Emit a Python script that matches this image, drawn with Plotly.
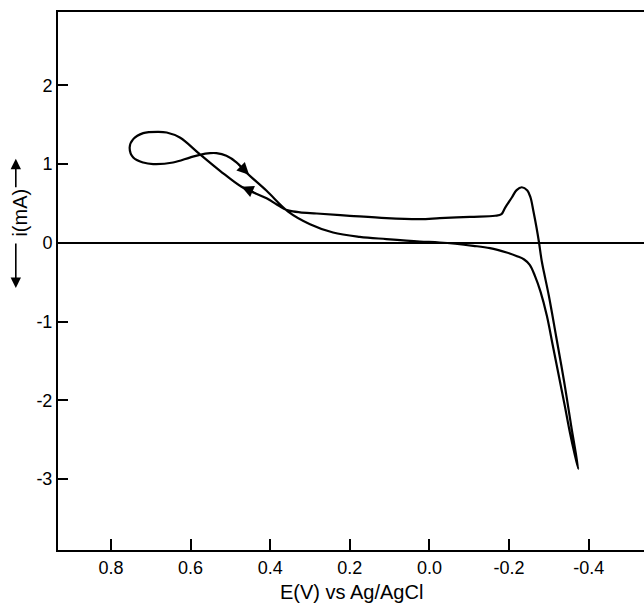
import plotly.graph_objects as go

# Cyclic voltammogram: potential E (V vs Ag/AgCl) and current i (mA), traced along the sweep
E = [-0.374, -0.356, -0.338, -0.318, -0.300, -0.288, -0.282, -0.275, -0.269, -0.261,
     -0.254, -0.246, -0.232, -0.219, -0.207, -0.190, -0.181, -0.165, -0.102, -0.026,
     0.024, 0.108, 0.200, 0.283, 0.325, 0.343, 0.360, 0.378, 0.409, 0.472, 0.526, 0.577,
     0.627, 0.660, 0.681, 0.719, 0.744, 0.753, 0.744, 0.719, 0.694, 0.644,
     0.602, 0.577, 0.551, 0.535, 0.510, 0.484, 0.459, 0.409, 0.355, 0.300,
     0.242, 0.175, 0.108, 0.024, -0.026, -0.110, -0.152, -0.194, -0.220, -0.238, -0.252,
     -0.265, -0.279, -0.295, -0.310, -0.325, -0.340, -0.353, -0.364, -0.374]
I = [-2.872, -2.322, -1.751, -1.180, -0.673, -0.381, -0.228, 0.013, 0.194, 0.406,
     0.575, 0.665, 0.705, 0.669, 0.575, 0.444, 0.364, 0.343, 0.330, 0.313,
     0.301, 0.313, 0.343, 0.372, 0.387, 0.398, 0.420, 0.470, 0.565, 0.711, 0.914, 1.126,
     1.336, 1.400, 1.409, 1.392, 1.316, 1.209, 1.082, 1.019, 0.999, 1.019,
     1.082, 1.117, 1.138, 1.138, 1.104, 1.019, 0.888, 0.660, 0.397, 0.237,
     0.131, 0.076, 0.047, 0.016, 0.004, -0.038, -0.067, -0.123, -0.170, -0.212, -0.280,
     -0.420, -0.620, -0.926, -1.307, -1.688, -2.069, -2.411, -2.665, -2.872]

# sweep-direction arrowheads (head position on the curve)
ARROW_E = [0.453, 0.472]
ARROW_I = [0.863, 0.711]
ARROW_DIR = [(-12, -12), (14, 6)]  # tail offset in px

X_TICKS = [0.8, 0.6, 0.4, 0.2, 0.0, -0.2, -0.4]
X_TICKTEXT = ["0.8", "0.6", "0.4", "0.2", "0.0", "-0.2", "-0.4"]
Y_TICKS = [-3, -2, -1, 0, 1, 2]
Y_TICKTEXT = ["-3", "-2", "-1", "0", "1", "2"]

FONT = "Liberation Sans, Arial, Helvetica, sans-serif"

fig = go.Figure()
fig.add_trace(go.Scatter(
    x=E, y=I, mode="lines",
    line=dict(color="black", width=2.2, shape="spline", smoothing=1.0),
    hoverinfo="skip", showlegend=False))

for e, i, (dx, dy) in zip(ARROW_E, ARROW_I, ARROW_DIR):
    fig.add_annotation(x=e, y=i, ax=dx, ay=dy, text="", showarrow=True,
                       arrowhead=2, arrowsize=1.5, arrowwidth=1.6,
                       arrowcolor="black", standoff=0)

# axis titles
fig.add_annotation(text="E(V) vs Ag/AgCl", x=0.5, y=-0.078, xref="paper", yref="paper",
                   showarrow=False, xanchor="center", yanchor="middle",
                   font=dict(family=FONT, size=20, color="black"))
fig.add_annotation(text="i(mA)", x=-0.065, y=0.627, xref="paper", yref="paper",
                   showarrow=False, textangle=-90, xanchor="center", yanchor="middle",
                   font=dict(family=FONT, size=20, color="black"))
# arrows flanking the y title (up = positive current, down = negative)
fig.add_annotation(x=-0.072, y=0.727, xref="paper", yref="paper", ax=0, ay=30,
                   text="", showarrow=True, arrowhead=2, arrowsize=1.3, arrowwidth=1.6,
                   arrowcolor="black", standoff=0)
fig.add_annotation(x=-0.072, y=0.487, xref="paper", yref="paper", ax=0, ay=-46,
                   text="", showarrow=True, arrowhead=2, arrowsize=1.3, arrowwidth=1.6,
                   arrowcolor="black", standoff=0)

fig.update_layout(
    width=644, height=607,
    margin=dict(l=58, r=0, t=12, b=57),
    paper_bgcolor="white", plot_bgcolor="white",
    showlegend=False,
    xaxis=dict(range=[0.933, -0.539], tickvals=X_TICKS, ticktext=X_TICKTEXT,
               ticks="inside", ticklen=11, tickwidth=1.5, tickcolor="black",
               showline=True, linewidth=2, linecolor="black", mirror=True,
               showgrid=False, zeroline=False,
               tickfont=dict(family=FONT, size=18, color="black")),
    yaxis=dict(range=[-3.9, 2.93], tickvals=Y_TICKS, ticktext=Y_TICKTEXT,
               ticks="inside", ticklen=10, tickwidth=1.5, tickcolor="black",
               showline=True, linewidth=2, linecolor="black", mirror=False,
               showgrid=False, zeroline=True, zerolinecolor="black", zerolinewidth=1.8,
               tickfont=dict(family=FONT, size=18, color="black")),
)

fig.write_html("out.html")
